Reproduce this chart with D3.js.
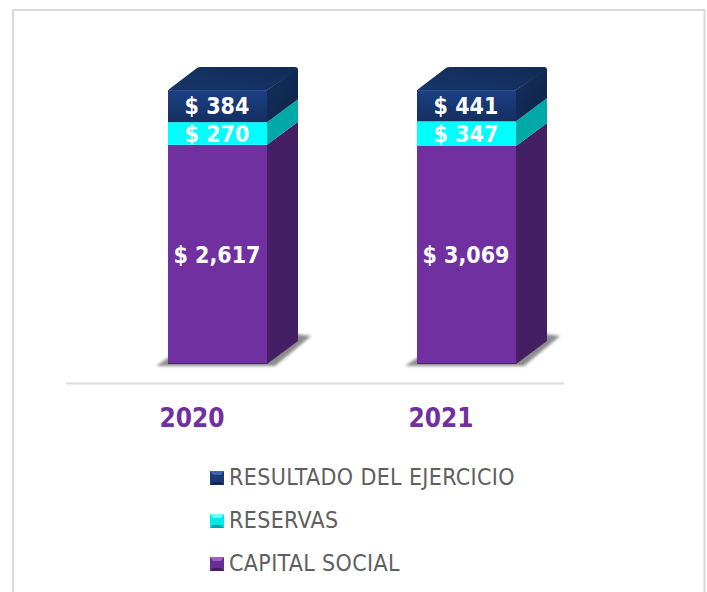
<!DOCTYPE html>
<html>
<head>
<meta charset="utf-8">
<script src="https://cdn.jsdelivr.net/npm/d3@7/dist/d3.min.js"></script>
<style>
html,body{margin:0;padding:0;background:#fff}
svg{display:block}
text{font-family:"DejaVu Sans Condensed","DejaVu Sans",sans-serif}
</style>
</head>
<body>
<svg id="c" width="707" height="592"></svg>
<script>
const categories = ["2020", "2021"];
const seriesNames = ["CAPITAL SOCIAL", "RESERVAS", "RESULTADO DEL EJERCICIO"];
const capitalSocial = [2617, 3069];
const reservas = [270, 347];
const resultado = [384, 441];

const W = 707, H = 592;
const dx = 31, dy = 23;
const svg = d3.select("#c");
const defs = svg.append("defs");

const palette = {
  "CAPITAL SOCIAL": {front:"#70309f", side:"#451f63", sw:"#6a2d96", swLight:"#a05fd0", swDark:"#45205f"},
  "RESERVAS": {front:"#00ffff", side:"#00a8a8", sw:"#00e8e8", swLight:"#70ffff", swDark:"#00a0a0"},
  "RESULTADO DEL EJERCICIO": {front:"#1a3b7c", side:"#10284f", sw:"#1b3a75", swLight:"#3f66ad", swDark:"#10264f"}
};

const g1 = defs.append("linearGradient").attr("id","fr0").attr("x1",0).attr("x2",0).attr("y1",0).attr("y2",1);
g1.append("stop").attr("offset",0).attr("stop-color","#1c4086");
g1.append("stop").attr("offset",1).attr("stop-color","#152f60");
const g2 = defs.append("linearGradient").attr("id","si0").attr("x1",0).attr("x2",1).attr("y1",0).attr("y2",1);
g2.append("stop").attr("offset",0).attr("stop-color","#14305f");
g2.append("stop").attr("offset",1).attr("stop-color","#0e2348");
const g3 = defs.append("linearGradient").attr("id","to0").attr("x1",0).attr("x2",1).attr("y1",1).attr("y2",0);
g3.append("stop").attr("offset",0).attr("stop-color","#173669");
g3.append("stop").attr("offset",1).attr("stop-color","#122b58");
const blur = defs.append("filter").attr("id","blur").attr("x","-20%").attr("y","-30%").attr("width","140%").attr("height","160%");
blur.append("feGaussianBlur").attr("stdDeviation",1.8);

// frame
svg.append("path").attr("d",`M13,${H}V10H704.5V${H}`).attr("fill","none").attr("stroke","#d9d9d9").attr("stroke-width",2);

const rows = categories.map((c,i)=>({cat:c,"CAPITAL SOCIAL":capitalSocial[i],"RESERVAS":reservas[i],"RESULTADO DEL EJERCICIO":resultado[i]}));
const stacked = d3.stack().keys(seriesNames).offset(d3.stackOffsetExpand)(rows);
const raw = {"CAPITAL SOCIAL":capitalSocial,"RESERVAS":reservas,"RESULTADO DEL EJERCICIO":resultado};

const xBar = d3.scaleBand().domain(categories).range([93,591]).paddingInner(150/249).paddingOuter(75/249);
const xLab = d3.scaleBand().domain(categories).range([66,564]);
const y = d3.scaleLinear().domain([0,1]).range([364,90]);

// floor shadows
categories.forEach(c=>{
  const l = xBar(c), r = l + xBar.bandwidth();
  svg.append("path")
    .attr("d",`M${l-12},${y(0)+2} L${l+6},${y(0)-10} L${r+dx-2},${y(0)-dy-7} L${r+dx+13},${y(0)-dy-5} L${r+8},${y(0)+2} Z`)
    .attr("fill","#777").attr("opacity",0.85).attr("filter","url(#blur)");
});

// axis line
svg.append("line").attr("x1",66).attr("x2",564).attr("y1",383.5).attr("y2",383.5).attr("stroke","#dcdcdc").attr("stroke-width",2);

// bars
const barsG = svg.append("g");
stacked.forEach((s,si)=>{
  const p = palette[s.key];
  const grp = barsG.append("g").attr("class","series");
  s.forEach((d,i)=>{
    const l = xBar(categories[i]), r = l + xBar.bandwidth();
    const y0 = y(d[0]), y1 = y(d[1]);
    const isTop = si === stacked.length-1;
    // side
    grp.append("path").attr("d",`M${r},${y0} L${r+dx},${y0-dy} L${r+dx},${y1-dy+(isTop?2:0)} L${r},${y1} Z`)
      .attr("fill", isTop ? "url(#si0)" : p.side);
    // front
    grp.append("rect").attr("x",l).attr("y",y1).attr("width",r-l).attr("height",y0-y1)
      .attr("fill", isTop ? "url(#fr0)" : p.front);
    if(isTop){
      grp.append("path").attr("d",`M${l},${y1+1} Q${l},${y1} ${l+2},${y1-1.5} L${l+dx-2},${y1-dy+1} Q${l+dx-1},${y1-dy} ${l+dx+2},${y1-dy} L${r+dx-3},${y1-dy} Q${r+dx},${y1-dy} ${r+dx},${y1-dy+3} L${r},${y1} Z`)
        .attr("fill","url(#to0)");
      grp.append("line").attr("x1",l).attr("x2",r).attr("y1",y1+0.5).attr("y2",y1+0.5).attr("stroke","#2a4f96").attr("stroke-width",1);
    }
    if(si===0){
      grp.append("line").attr("x1",l).attr("x2",r).attr("y1",y0-0.5).attr("y2",y0-0.5).attr("stroke","#4d2370").attr("stroke-width",1);
    }
  });
});

// data labels
const fmt = d3.format(",");
stacked.forEach(s=>{
  s.forEach((d,i)=>{
    svg.append("text")
      .attr("x",xBar(categories[i])+xBar.bandwidth()/2-0.5)
      .attr("y",(y(d[0])+y(d[1]))/2)
      .attr("dy","0.36em")
      .attr("text-anchor","middle")
      .attr("font-size",23).attr("font-weight",700).attr("fill","#fff")
      .text("$ "+fmt(raw[s.key][i]));
  });
});

// category labels
svg.selectAll("text.cat").data(categories).join("text").attr("class","cat")
  .attr("x",c=>xLab(c)+xLab.bandwidth()/2+1.5)
  .attr("y",418).attr("dy","0.36em").attr("text-anchor","middle")
  .attr("font-size",26).attr("font-weight",700).attr("fill","#7030a0")
  .text(c=>c);

// legend
const legendOrder = seriesNames.slice().reverse();
const ly = d3.scalePoint().domain(legendOrder).range([477,563]);
const sz = 14;
legendOrder.forEach(n=>{
  const p = palette[n], yy = ly(n), x0 = 210, t = yy - sz/2 + 1;
  const g = svg.append("g");
  g.append("rect").attr("x",x0).attr("y",t).attr("width",sz).attr("height",sz).attr("fill",p.sw);
  g.append("path").attr("d",`M${x0},${t} H${x0+sz} L${x0+sz-3},${t+4} H${x0+3} Z`).attr("fill",p.swLight);
  g.append("path").attr("d",`M${x0},${t+sz} H${x0+sz} L${x0+sz-3},${t+sz-3} H${x0+3} Z`).attr("fill",p.swDark);
  g.append("text").attr("x",229).attr("y",yy).attr("dy","0.36em")
    .attr("font-size",23).attr("letter-spacing",0.35).attr("fill","#5f5f5f").text(n);
});
</script>
</body>
</html>
